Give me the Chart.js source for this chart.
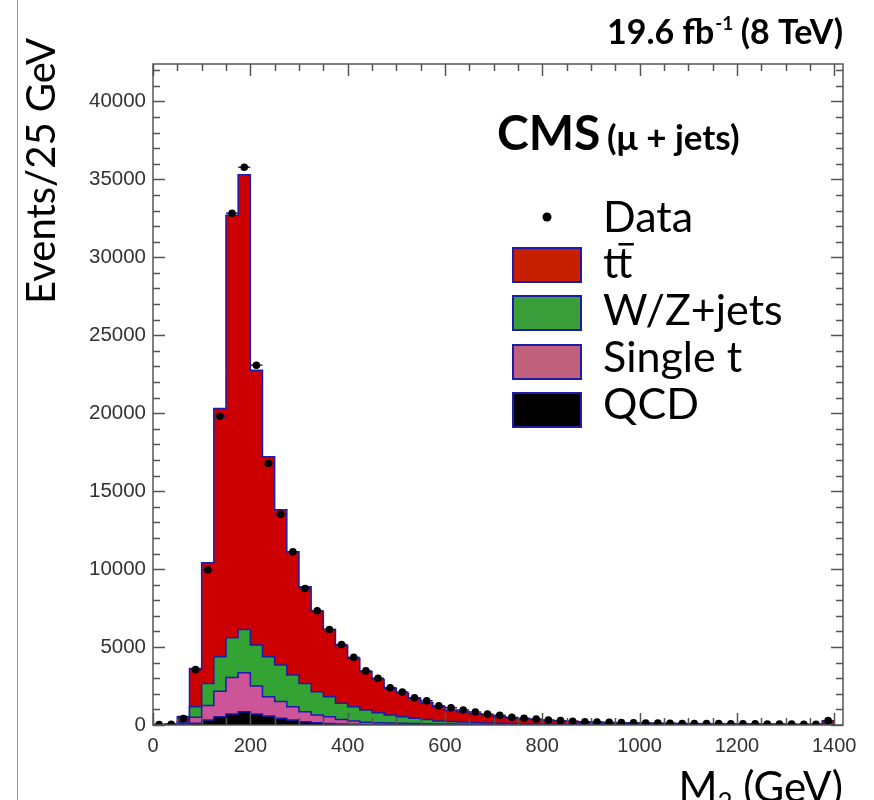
<!DOCTYPE html>
<html>
<head>
<meta charset="utf-8">
<script src="https://cdn.jsdelivr.net/npm/chart.js@4.4.0/dist/chart.umd.min.js"></script>
<style>
html, body { margin: 0; padding: 0; background: #fff; overflow: hidden; }
canvas { display: block; }
</style>
</head>
<body>
<canvas id="chart" width="874" height="800"></canvas>
<script>
// M2 bins, 25 GeV wide (low edges)
const binWidth = 25;
const binLow = [0, 25, 50, 75, 100, 125, 150, 175, 200, 225, 250, 275, 300, 325, 350, 375,
  400, 425, 450, 475, 500, 525, 550, 575, 600, 625, 650, 675, 700, 725, 750, 775,
  800, 825, 850, 875, 900, 925, 950, 975, 1000, 1025, 1050, 1075, 1100, 1125, 1150, 1175,
  1200, 1225, 1250, 1275, 1300, 1325, 1350, 1375];

// stacked MC contributions (events / bin)
const ttbar = [10, 25, 350, 2460, 7730, 15920, 27100, 29170, 17630, 12820,
  9950, 7910, 6200, 5160, 4310, 3690, 3100, 2460, 2130, 1710,
  1500, 1280, 1070, 910, 740, 660, 560, 485, 415, 355,
  310, 262, 232, 200, 176, 152, 136, 120, 108, 96,
  88, 80, 72, 64, 60, 56, 52, 48, 44, 40,
  36, 34, 32, 30, 28, 200];
const wzJets = [10, 20, 80, 670, 1420, 2220, 2550, 2780, 2630, 2560,
  2350, 2030, 1820, 1500, 1290, 1030, 910, 790, 640, 510,
  420, 335, 280, 190, 160, 140, 118, 99, 85, 70,
  60, 51, 43, 37, 33, 28, 25, 22, 20, 18,
  16, 15, 13, 12, 11, 10, 10, 9, 8, 7,
  7, 6, 6, 6, 5, 38];
const singleTop = [5, 10, 90, 380, 930, 1630, 2350, 2500, 1800, 1250,
  1070, 850, 640, 490, 430, 290, 210, 130, 120, 105,
  90, 80, 68, 60, 52, 43, 36, 31, 25, 21,
  16, 14, 12, 10, 9, 8, 7, 6, 6, 5,
  5, 4, 4, 3, 3, 3, 2, 2, 2, 2,
  1, 1, 1, 1, 1, 10];
const qcd = [5, 5, 30, 120, 320, 530, 700, 850, 700, 570,
  430, 320, 210, 150, 100, 70, 50, 40, 30, 25,
  20, 15, 12, 10, 8, 7, 6, 5, 5, 4,
  4, 3, 3, 3, 2, 2, 2, 2, 1, 1,
  1, 1, 1, 1, 1, 1, 1, 1, 1, 1,
  1, 1, 1, 1, 1, 2];

// observed data
const dataCounts = [30, 40, 420, 3550, 9950, 19800, 32830, 35780, 23080, 16770,
  13520, 11110, 8760, 7330, 6130, 5160, 4340, 3470, 3000, 2390,
  2120, 1750, 1550, 1230, 1110, 960, 830, 700, 620, 490,
  430, 380, 320, 280, 240, 210, 190, 170, 150, 140,
  130, 120, 110, 100, 95, 90, 85, 80, 75, 70,
  65, 60, 55, 50, 50, 280];

// axis labels
const yTicks = [0, 5000, 10000, 15000, 20000, 25000, 30000, 35000, 40000];
const xTicks = [0, 200, 400, 600, 800, 1000, 1200, 1400];
const yMinorStep = 1000;
const xMinorStep = 50;

const colors = {
    outline: '#1c1ca8',
    ttbar: '#cc0000',
    wz: '#33a333',
    st: '#cc5599',
    qcd: '#000000',
    text: '#333333'
};

// histogram as step line: one point per low edge plus the closing edge
function histPoints(values) {
    const pts = binLow.map((x, i) => ({ x: x, y: values[i] }));
    pts.push({ x: binLow[binLow.length - 1] + binWidth, y: values[values.length - 1] });
    return pts;
}

function histDataset(label, values, color, order) {
    return {
        label: label,
        data: histPoints(values),
        stack: 'mc',
        order: order,
        stepped: true,
        fill: 'origin',
        backgroundColor: color,
        borderColor: colors.outline,
        borderWidth: 1.5,
        pointRadius: 0,
        tension: 0
    };
}

const dataPoints = binLow.map((x, i) => ({ x: x + binWidth / 2, y: dataCounts[i] }));

// frame, inward ticks and all the labels (ROOT style)
const rootFrame = {
    id: 'rootFrame',
    afterDatasetsDraw(chart) {
        const { ctx, chartArea: a, scales: { x, y } } = chart;
        ctx.save();
        ctx.strokeStyle = '#555';
        ctx.lineWidth = 1.5;
        ctx.strokeRect(a.left, a.top, a.right - a.left, a.bottom - a.top);
        ctx.beginPath();
        for (let v = 0; v <= y.max; v += yMinorStep) {
            const py = Math.round(y.getPixelForValue(v)) + 0.5;
            const len = yTicks.includes(v) ? 12 : 7;
            ctx.moveTo(a.left, py); ctx.lineTo(a.left + len, py);
            ctx.moveTo(a.right, py); ctx.lineTo(a.right - len, py);
        }
        for (let v = 0; v <= x.max; v += xMinorStep) {
            const px = Math.round(x.getPixelForValue(v)) + 0.5;
            const len = xTicks.includes(v) ? 12 : 7;
            ctx.moveTo(px, a.top); ctx.lineTo(px, a.top + len);
            ctx.moveTo(px, a.bottom); ctx.lineTo(px, a.bottom - len);
        }
        ctx.stroke();
        ctx.restore();
    },
    afterDraw(chart) {
        const ctx = chart.ctx;
        ctx.save();
        ctx.fillStyle = '#000';

        // thin border line on the left
        ctx.strokeStyle = '#999';
        ctx.lineWidth = 1;
        ctx.beginPath();
        ctx.moveTo(17.5, 0); ctx.lineTo(17.5, 800);
        ctx.stroke();

        // lumi label
        ctx.textBaseline = 'alphabetic';
        ctx.textAlign = 'left';
        const big = 'bold 34px Lato', small = 'bold 19px Lato';
        const p1 = '19.6 fb', p2 = '-1', p3 = ' (8 TeV)';
        ctx.font = big; const w1 = ctx.measureText(p1).width, w3 = ctx.measureText(p3).width;
        ctx.font = small; const w2 = ctx.measureText(p2).width;
        let lx = 843 - (w1 + w2 + w3);
        ctx.font = big; ctx.fillText(p1, lx, 44);
        ctx.font = small; ctx.fillText(p2, lx + w1 + 1, 30);
        ctx.font = big; ctx.fillText(p3, lx + w1 + w2, 44);

        // y title
        ctx.save();
        ctx.translate(42, 38);
        ctx.rotate(-Math.PI / 2);
        ctx.font = '40px Lato';
        ctx.textAlign = 'right';
        ctx.textBaseline = 'middle';
        ctx.fillText('Events/25 GeV', 0, 0);
        ctx.restore();

        // x title (runs off the bottom edge)
        ctx.font = '42px Lato';
        const m = 'M', tail = ' (GeV)';
        const wm = ctx.measureText(m).width, wt = ctx.measureText(tail).width;
        ctx.font = '26px Lato';
        const ws = ctx.measureText('2').width;
        const tx = 843 - (wm + ws + wt);
        ctx.font = '42px Lato'; ctx.fillText(m, tx, 802);
        ctx.font = '26px Lato'; ctx.fillText('2', tx + wm, 812);
        ctx.font = '42px Lato'; ctx.fillText(tail, tx + wm + ws, 802);

        // CMS label
        ctx.font = 'bold 48px Lato';
        ctx.fillText('CMS', 497, 150);
        ctx.font = 'bold 35px Lato';
        ctx.fillText('(\u03bc + jets)', 607, 150);

        // legend
        ctx.beginPath();
        ctx.arc(547, 217, 4.5, 0, Math.PI * 2);
        ctx.fill();
        ctx.font = '43px Lato';
        ctx.fillText('Data', 603, 232);
        const entries = [
            { text: 'tt', color: '#c62000', top: 248, base: 278 },
            { text: 'W/Z+jets', color: '#3a9e3a', top: 296, base: 325 },
            { text: 'Single t', color: '#c0607c', top: 345, base: 372 },
            { text: 'QCD', color: '#000000', top: 393, base: 419 }
        ];
        entries.forEach(e => {
            ctx.fillStyle = e.color;
            ctx.fillRect(513, e.top, 68, 34);
            ctx.strokeStyle = colors.outline;
            ctx.lineWidth = 2;
            ctx.strokeRect(513, e.top, 68, 34);
            ctx.fillStyle = '#000';
            ctx.fillText(e.text, 603, e.base);
        });
        // bar over the second t
        const wt1 = ctx.measureText('t').width;
        ctx.fillRect(603 + wt1, 243, wt1, 2.5);
        ctx.restore();
    }
};

const ctx = document.getElementById('chart').getContext('2d');
new Chart(ctx, {
    type: 'line',
    data: {
        datasets: [
            {
                label: 'Data',
                type: 'scatter',
                data: dataPoints,
                stack: 'data',
                order: 0,
                pointStyle: 'circle',
                pointRadius: 3.8,
                backgroundColor: '#000',
                borderColor: '#000',
                borderWidth: 0,
                showLine: false
            },
            {
                label: 'Data bin width',
                type: 'scatter',
                data: dataPoints,
                stack: 'err',
                order: 1,
                pointStyle: 'line',
                pointRadius: 6,
                borderColor: '#202070',
                borderWidth: 1.5,
                showLine: false
            },
            histDataset('QCD', qcd, colors.qcd, 2),
            histDataset('Single t', singleTop, colors.st, 3),
            histDataset('W/Z+jets', wzJets, colors.wz, 4),
            histDataset('tt', ttbar, colors.ttbar, 5)
        ]
    },
    options: {
        responsive: false,
        animation: false,
        events: [],
        layout: { padding: { top: 64, right: 31, left: 0, bottom: 0 } },
        plugins: {
            legend: { display: false },
            tooltip: { enabled: false }
        },
        scales: {
            x: {
                type: 'linear',
                min: 0,
                max: 1418,
                grid: { display: false, drawTicks: false },
                border: { display: false },
                ticks: {
                    maxRotation: 0,
                    autoSkip: false,
                    padding: 9,
                    color: colors.text,
                    font: { family: 'Liberation Sans', size: 20 },
                    callback: v => String(v)
                },
                afterBuildTicks: s => { s.ticks = xTicks.map(v => ({ value: v })); },
                afterFit: s => { s.height = 75; }
            },
            y: {
                stacked: true,
                min: 0,
                max: 42400,
                grid: { display: false, drawTicks: false },
                border: { display: false },
                ticks: {
                    autoSkip: false,
                    padding: 7,
                    color: colors.text,
                    font: { family: 'Liberation Sans', size: 20.5 },
                    callback: v => String(v)
                },
                afterBuildTicks: s => { s.ticks = yTicks.map(v => ({ value: v })); },
                afterFit: s => { s.width = 153; }
            }
        }
    },
    plugins: [rootFrame]
});
</script>
</body>
</html>
